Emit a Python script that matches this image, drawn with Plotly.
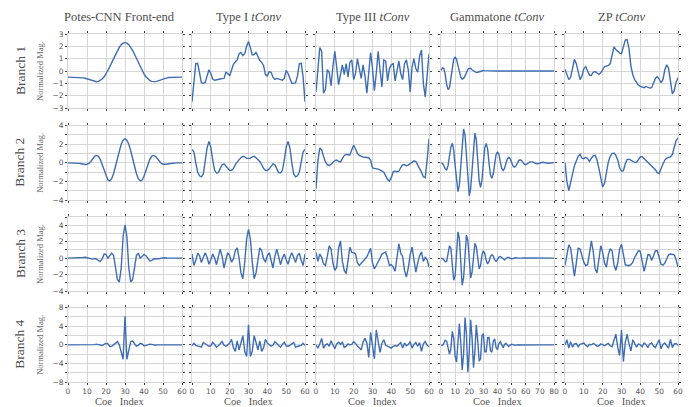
import plotly.graph_objects as go

W, H = 689, 407

col_titles = ["Potes-CNN Front-end", "Type I <i>tConv</i>", "Type III <i>tConv</i>",
              "Gammatone <i>tConv</i>", "ZP <i>tConv</i>"]
branch_labels = ["Branch 1", "Branch 2", "Branch 3", "Branch 4"]
y_title = "Normalized Mag."
x_title = "Coe\u00a0\u00a0\u00a0Index"

x_ticks_60 = [0, 10, 20, 30, 40, 50, 60]
x_ticks_80 = [0, 10, 20, 30, 40, 50, 60, 70, 80]
row_ranges = [[-3, 3], [-4, 4], [-4, 5], [-8, 8]]
row_ticks = [[-3, -2, -1, 0, 1, 2, 3], [-4, -2, 0, 2, 4], [-4, -2, 0, 2, 4], [-8, -4, 0, 4, 8]]
row_minor = [1, 1, 1, 2]

# ---------------- Branch 1 ----------------
potes_b1 = [-0.5, -0.5, -0.5, -0.5, -0.5, -0.51, -0.52, -0.53, -0.56, -0.59,
            -0.64, -0.7, -0.76, -0.82, -0.86, -0.87, -0.84, -0.77, -0.65, -0.47,
            -0.24, 0.04, 0.35, 0.68, 1.02, 1.36, 1.67, 1.93, 2.13, 2.26,
            2.3,
            2.26, 2.13, 1.93, 1.67, 1.36, 1.02, 0.68, 0.35, 0.04, -0.24,
            -0.47, -0.65, -0.77, -0.84, -0.87, -0.86, -0.82, -0.76, -0.7, -0.64,
            -0.59, -0.56, -0.53, -0.52, -0.51, -0.5, -0.5, -0.5, -0.5, -0.5]
type1_b1 = [-2.5, -0.8, 0.6, 0.62, -0.3, -0.95, -1.0, -0.95, -0.4, 0.1,
            -0.2, -0.65, -0.75, -0.7, -0.65, -0.65, -0.62, -0.6, -0.1, -0.2,
            -0.4, 0.1, 0.55, 0.75, 0.9, 1.4, 1.5, 1.25, 1.4, 2.0,
            2.4, 1.9, 1.3, 1.35, 1.5, 1.2, 0.85, 0.7, 0.45, -0.3,
            -0.4, -0.05, -0.1, -0.5, -0.68, -0.6, -0.65, -0.7, -0.75, -0.6,
            0.05, -0.2, -0.7, -1.0, -1.0, -0.95, -0.4, 0.6, 0.62, -0.5, -2.5]
type3_b1 = [-1.7, 0.5, 1.9, 1.6, -1.8, -1.5, 0.1, -0.1, -1.2, 0.4,
            1.6, 0.3, -1.1, -0.3, 0.5, -0.3, 0.6, -0.5, 0.7, 0.9,
            -0.7, -0.2, 1.0, 0.2, -0.6, 0.5, -0.4, -1.8, 0.2, 1.5,
            0.2, -1.6, -0.2, 1.6, 0.1, -1.3, 0.9, 0.8, -0.8, 0.2,
            0.5, 0.6, -0.8, 0.1, 0.8, -0.2, -0.7, 0.6, 0.9, 0.1,
            -1.7, 0.3, 1.0, 0.2, -0.1, 1.2, 1.7, -1.0, -2.1, -0.4, 1.4]
gamma_b1 = [0.05, 0.25, 0.2, -0.3, -1.1, -1.5, -1.35, -0.6, 0.3, 0.95,
            1.15, 0.95, 0.45, -0.1, -0.5, -0.65, -0.6, -0.4, -0.1, 0.12,
            0.22, 0.2, 0.1, 0.0, -0.1, -0.13, -0.1, -0.05, 0.0, 0.03,
            0.04, 0.03, 0.02, 0.01, 0.0, 0.0, 0.0, 0.0, 0.0, 0.0,
            0.0, 0.0, 0.0, 0.0, 0.0, 0.0, 0.0, 0.0, 0.0, 0.0,
            0.0, 0.0, 0.0, 0.0, 0.0, 0.0, 0.0, 0.0, 0.0, 0.0,
            0.0, 0.0, 0.0, 0.0, 0.0, 0.0, 0.0, 0.0, 0.0, 0.0,
            0.0, 0.0, 0.0, 0.0, 0.0, 0.0, 0.0, 0.0, 0.0, 0.0, 0.0]
zp_b1 = [0.15, -0.3, -0.7, -0.5, 0.4, 0.95, 0.6, -0.2, -0.7, -0.4,
         0.2, 0.35, 0.0, -0.35, -0.35, -0.1, -0.05, -0.2, -0.28, -0.15,
         0.15, 0.35, 0.4, 0.45, 0.6, 1.3, 1.95, 1.75, 1.55, 1.45,
         1.4, 1.9, 2.5, 2.55, 1.8, 0.4, -0.3, -0.7, -0.95, -1.15,
         -1.25, -1.32, -1.35, -1.25, -1.3, -1.38, -1.35, -1.0, -0.6, -0.45,
         -0.65, -0.95, -0.7, 0.1, 0.5, 0.2, -0.9, -1.85, -1.6, -0.9, -0.55]

# ---------------- Branch 2 ----------------
potes_b2 = [0.0, 0.0, 0.0, 0.0, -0.01, -0.03, -0.06, -0.1, -0.15, -0.18,
            -0.15, -0.05, 0.15, 0.45, 0.7, 0.8, 0.7, 0.35, -0.2, -0.85,
            -1.45, -1.85, -1.95, -1.7, -1.15, -0.4, 0.45, 1.3, 2.0, 2.45,
            2.6,
            2.45, 2.0, 1.3, 0.45, -0.4, -1.15, -1.7, -1.95, -1.85, -1.45,
            -0.85, -0.2, 0.35, 0.7, 0.8, 0.7, 0.45, 0.15, -0.05, -0.15,
            -0.18, -0.15, -0.1, -0.06, -0.03, -0.01, 0.0, 0.0, 0.0, 0.0]
type1_b2 = [1.45, 1.2, 0.0, -1.0, -1.4, -1.5, -1.2, 0.0, 1.6, 2.3,
            1.7, 0.3, -0.8, -1.1, -1.05, -0.6, -0.2, -0.1, -0.35, -0.65,
            -0.82, -0.8, -0.6, -0.2, 0.15, 0.35, 0.55, 0.7, 0.65, 0.5,
            0.48,
            0.5, 0.65, 0.7, 0.55, 0.35, 0.15, -0.2, -0.6, -0.8, -0.82,
            -0.65, -0.35, -0.1, -0.2, -0.6, -1.05, -1.1, -0.8, 0.3, 1.7,
            2.3, 1.6, 0.0, -1.2, -1.5, -1.4, -1.0, 0.0, 1.2, 1.45]
type3_b2 = [-2.8, 0.2, 1.6, 1.4, 0.7, 0.1, -0.2, -0.3, -0.15, 0.05,
            0.25, 0.3, 0.15, 0.1, 0.4, 0.8, 0.9, 0.85, 0.85, 1.4,
            1.9, 1.5, 1.0, 0.8, 0.7, 0.62, 0.6, 0.58, 0.55, 0.3,
            -0.55, -0.6, -0.62, -0.68, -0.75, -0.85, -1.0, -1.4, -1.8, -1.97,
            -1.6, -0.95, -0.9, -0.95, -0.9, -0.5, -0.2, -0.2, -0.32, -0.25,
            -0.1, 0.05, 0.2, 0.15, -0.2, -0.55, -1.0, -1.5, -1.6, 0.3, 2.6]
gamma_b2 = [0.0, -0.05, -0.3, -0.65, -0.75, -0.3, 0.7, 1.7, 2.1, 1.4,
            -0.3, -2.2, -3.1, -2.4, -0.3, 2.2, 3.65, 3.0, 0.6, -2.2,
            -3.55, -2.8, -0.4, 2.0, 3.2, 2.5, 0.3, -1.9, -2.65, -1.9,
            0.0, 1.6, 2.1, 1.5, 0.0, -1.3, -1.65, -1.2, -0.1, 0.9,
            1.2, 0.9, 0.1, -0.6, -0.82, -0.6, -0.05, 0.45, 0.6, 0.45,
            0.05, -0.35, -0.47, -0.35, -0.05, 0.25, 0.32, 0.25, 0.05, -0.15,
            -0.2, -0.15, -0.02, 0.1, 0.14, 0.1, 0.0, -0.07, -0.1, -0.07,
            0.0, 0.05, 0.06, 0.04, 0.0, -0.03, -0.04, -0.02, 0.0, 0.02, 0.02]
zp_b2 = [0.0, -2.0, -3.0, -2.0, -0.9, -0.3, 0.2, 0.7, 0.93, 0.5,
         0.45, 0.6, 0.45, 0.15, 0.5, 0.75, 0.8, 0.3, -0.6, -1.8,
         -2.6, -2.2, -1.0, 0.1, 0.7, 1.0, 1.05, 0.8, 0.3, -0.5,
         -0.9, -0.85, -0.1, 0.35, 0.4, 0.28, 0.2, 0.05, 0.05, 0.4,
         0.65, 0.65, 0.45, 0.3, 0.15, -0.05, -0.25, -0.45, -0.75, -1.05,
         -1.15, -0.6, -0.05, 0.3, 0.5, 0.6, 0.65, 0.9, 1.6, 2.4, 2.7]

# ---------------- Branch 3 ----------------
potes_b3 = [0.0, 0.0, 0.0, 0.0, 0.0, 0.01, 0.02, 0.05, 0.08, 0.1,
            0.05, -0.05, -0.12, -0.12, -0.05, -0.1, -0.3, -0.4, -0.1, 0.5,
            0.45, 0.0, 0.3, 0.6, 0.3, -1.2, -2.6, -2.9, -1.2, 2.6,
            4.05,
            2.6, -1.2, -2.9, -2.6, -1.2, 0.3, 0.6, 0.0, 0.2, 0.45,
            0.3, -0.1, -0.35, -0.3, -0.1, -0.08, -0.12, -0.08, 0.0, 0.05,
            0.04, 0.02, 0.0, 0.0, 0.0, 0.0, 0.0, 0.0, 0.0, 0.0]
type1_b3 = [0.5, -0.9, -0.3, 0.6, 0.3, -0.55, 0.1, 0.65, 0.1, -0.75,
            -0.2, 0.5, 0.0, -0.8, 0.2, 1.1, 0.2, -1.2, -0.2, 0.65,
            0.3, -0.5, -0.1, 0.9, 1.25, 0.0, -1.8, -2.5, -0.5, 2.3,
            3.5,
            2.3, -0.5, -2.5, -1.8, 0.0, 1.25, 0.9, -0.1, -0.5, 0.3,
            0.65, -0.2, -1.2, 0.2, 1.1, 0.2, -0.8, 0.0, 0.5, -0.2,
            -0.75, 0.1, 0.65, 0.1, -0.55, 0.3, 0.6, -0.3, -0.9, 0.5]
type3_b3 = [0.7, -0.4, 0.5, 0.1, -0.7, -0.9, 0.2, 1.5, 1.1, -0.6,
            -1.5, -1.1, 1.2, 2.1, -0.4, -1.5, -1.9, -0.3, 1.35, 0.7,
            0.65, 0.5, -0.6, -0.9, -0.6, -0.3, -0.1, 0.15, 0.7, 1.2,
            -0.6, -1.3, -0.9, -0.5, 0.0, 0.5, 0.6, 0.75, 0.0, -0.9,
            -0.8, -1.1, -1.6, 0.3, 1.75, 0.6, 0.2, -1.5, -2.3, -1.2,
            0.4, 1.35, -0.5, -1.7, -0.6, 0.3, 0.75, -0.4, 0.1, -0.2, -1.1]
gamma_b3 = [0.0, -0.05, -0.2, -0.45, -0.4, 0.5, 1.5, 1.2, -1.0, -2.7,
            -2.2, 1.0, 3.2, 2.4, -1.3, -3.3, -2.4, 0.8, 2.8, 2.2,
            -0.8, -2.4, -1.7, 0.5, 1.8, 1.4, -0.3, -1.3, -0.9, 0.4,
            0.9, 0.55, -0.3, -0.7, -0.4, 0.2, 0.4, 0.25, -0.2, -0.4,
            -0.2, 0.12, 0.2, 0.05, -0.15, -0.2, -0.05, 0.08, 0.07, -0.02,
            -0.08, -0.05, 0.02, 0.04, 0.01, -0.02, -0.02, 0.0, 0.01, 0.01,
            0.0, 0.0, 0.0, 0.0, 0.0, 0.0, 0.0, 0.0, 0.0, 0.0,
            0.0, 0.0, 0.0, 0.0, 0.0, 0.0, 0.0, 0.0, 0.0, 0.0, 0.0]
zp_b3 = [-0.9, 0.4, 1.6, 1.2, -0.8, -2.2, -0.6, 1.2, 1.1, 0.3,
         -0.5, -0.9, -0.8, 0.6, 2.1, 0.8, -1.3, -1.8, 0.2, 1.5,
         0.7, -0.6, -1.1, 0.4, 1.15, 0.9, -0.8, -1.5, -0.6, 1.1,
         1.7, 0.5, -0.8, -0.9, -0.9, -0.8, -0.5, 0.1, 0.6, 0.9,
         0.8, -0.5, -1.6, -0.7, 0.4, 0.4, -0.3, 0.3, 0.9, 0.9,
         -0.1, -0.75, -0.85, -0.6, -0.1, 0.4, 0.5, 0.45, 0.4, -0.2, -1.1]

# ---------------- Branch 4 ----------------
potes_b4 = [0.0, 0.0, 0.0, 0.0, 0.0, 0.0, 0.0, 0.0, 0.02, 0.03,
            0.02, 0.0, -0.05, -0.05, 0.05, 0.15, 0.1, -0.1, -0.15, 0.1,
            0.35, 0.2, -0.35, -0.3, 0.1, 0.5, 0.7, 0.0, -1.5, -3.1,
            6.2,
            -3.1, -1.2, 0.7, 0.8, 0.1, -0.3, -0.1, 0.35, 0.2, -0.2,
            -0.15, 0.05, 0.15, 0.1, -0.05, -0.08, 0.0, 0.05, 0.04, 0.0,
            0.0, 0.0, 0.0, 0.0, 0.0, 0.0, 0.0, 0.0, 0.0, 0.0]
type1_b4 = [-0.15, 0.35, -0.1, -0.2, -0.3, -0.5, 0.5, 0.2, -0.1, -0.3,
            -0.2, 0.55, 0.1, -0.5, -0.2, 0.3, 0.7, -0.1, -0.3, 0.0,
            0.4, 1.2, -0.6, -1.4, 0.85, -1.1, 0.5, 2.0, -1.4, -2.5,
            4.3,
            -2.5, -1.4, 2.0, 0.5, -1.1, 0.85, -1.4, -0.6, 1.2, 0.4,
            0.0, -0.3, -0.1, 0.7, 0.3, -0.2, -0.5, 0.1, 0.55, -0.2,
            -0.3, -0.1, 0.2, 0.5, -0.5, -0.3, -0.2, -0.1, 0.35, -0.15]
type3_b4 = [0.0, -0.7, 0.2, 1.4, -0.7, 0.0, 0.2, -0.3, 0.9, -0.2,
            -0.85, 0.2, 0.55, 0.1, 0.6, -0.55, -0.3, 0.2, 0.0, 0.1,
            0.7, 0.3, -0.3, -0.6, -1.1, 0.6, 1.4, 0.4, -2.7, 2.7,
            0.0, -3.0, 3.2, 0.2, -1.6, 0.3, 1.1, -0.1, -0.3, -0.4,
            -0.7, -0.3, -0.15, -0.3, 0.2, 0.5, -0.7, 0.4, -0.2, 0.1,
            0.7, -0.7, 0.1, 0.5, -0.3, 0.5, -1.4, 0.2, 0.7, -0.1, -0.4]
gamma_b4 = [0.0, -0.1, 0.3, 1.0, 0.8, -0.5, -2.0, -0.8, 2.9, 1.5,
            -2.5, -3.7, 1.0, 4.6, 0.5, -5.4, -2.0, 5.9, 2.5, -5.9,
            -1.5, 5.4, 1.5, -4.9, -1.5, 4.3, 1.0, -3.5, -3.0, 2.0,
            2.4, -1.5, -1.5, 1.5, 1.6, -1.2, -1.6, 0.8, 1.3, -0.6,
            -1.0, 0.3, 0.7, -0.2, -0.6, 0.1, 0.35, -0.05, -0.35, -0.05,
            0.15, 0.05, -0.1, -0.05, 0.05, 0.03, -0.03, -0.02, 0.02, 0.01,
            0.0, 0.0, 0.0, 0.0, 0.0, 0.0, 0.0, 0.0, 0.0, 0.0,
            0.0, 0.0, 0.0, 0.0, 0.0, 0.0, 0.0, 0.0, 0.0, 0.0, 0.0]
zp_b4 = [0.0, 1.1, -0.7, 0.7, -0.5, 0.2, 0.3, -0.4, 0.1, 0.2,
         0.4, -0.1, -0.4, 0.1, 0.0, 0.3, 0.1, -0.3, -0.2, 0.2,
         0.0, -0.2, 0.1, 0.3, -0.2, -0.4, 1.0, 2.3, -0.5, -2.3,
         3.2, -3.6, 0.5, 2.3, 0.2, -1.3, 1.1, 0.2, -0.5, 0.2,
         0.0, -0.4, 0.4, 0.1, -0.6, 0.2, 0.4, -0.3, -0.6, 0.3,
         1.1, -0.85, 0.1, 0.4, -0.2, -0.7, 1.2, -0.6, 0.2, 0.3, -0.1]

series = [
    [potes_b1, type1_b1, type3_b1, gamma_b1, zp_b1],
    [potes_b2, type1_b2, type3_b2, gamma_b2, zp_b2],
    [potes_b3, type1_b3, type3_b3, gamma_b3, zp_b3],
    [potes_b4, type1_b4, type3_b4, gamma_b4, zp_b4],
]

# ---------------- layout (pixels) ----------------
col_px = [(68, 182), (192, 305), (316, 429), (441, 554), (565, 678)]
row_px = [(34, 108), (125.7, 200), (217, 291), (307.7, 382)]
title_cx = [119, 248.5, 372.5, 497.5, 621.5]

LINE = "#3f6db4"
GRID = "#d6d6d6"
TXT = "#4d4d4d"
TICKFONT = dict(family="DejaVu Sans", size=7.5, color="#555555")
SERIF = "Liberation Serif"

fig = go.Figure()
axes = {}
for r in range(4):
    for c in range(5):
        k = r * 5 + c + 1
        s = "" if k == 1 else str(k)
        yv = series[r][c]
        fig.add_trace(go.Scatter(
            x=list(range(len(yv))), y=yv, mode="lines",
            line=dict(color=LINE, width=1.4),
            xaxis="x" + s, yaxis="y" + s, showlegend=False, hoverinfo="skip"))
        xt = x_ticks_80 if c == 3 else x_ticks_60
        axes["xaxis" + s] = dict(
            domain=[col_px[c][0] / W, col_px[c][1] / W], anchor="y" + s,
            range=[xt[0], xt[-1]], tickvals=xt, showticklabels=(r == 3),
            showgrid=True, gridcolor=GRID, gridwidth=1, zeroline=False,
            showline=True, linecolor=GRID, linewidth=1, mirror="ticks",
            ticks="outside", ticklen=2, tickcolor="#444", tickwidth=1,
            tickfont=TICKFONT, fixedrange=True, automargin=False)
        axes["yaxis" + s] = dict(
            domain=[1 - row_px[r][1] / H, 1 - row_px[r][0] / H], anchor="x" + s,
            range=row_ranges[r], tickvals=row_ticks[r], showticklabels=(c == 0),
            showgrid=True, gridcolor=GRID, gridwidth=1, zeroline=False,
            showline=True, linecolor=GRID, linewidth=1, mirror="ticks",
            ticks="outside", ticklen=2, tickcolor="#444", tickwidth=1,
            minor=dict(dtick=row_minor[r], tick0=0, showgrid=True, gridcolor=GRID,
                       ticks="outside", ticklen=2, tickcolor="#444"),
            tickfont=TICKFONT, fixedrange=True, automargin=False)

annotations = []
for c, t in enumerate(col_titles):
    annotations.append(dict(text=t, x=title_cx[c] / W, y=1 - 17 / H, xref="paper", yref="paper",
                            xanchor="center", yanchor="middle", showarrow=False,
                            font=dict(family=SERIF, size=12.5, color=TXT)))
for r, t in enumerate(branch_labels):
    cy = (row_px[r][0] + row_px[r][1]) / 2
    annotations.append(dict(text=t, x=20 / W, y=1 - cy / H, xref="paper", yref="paper",
                            xanchor="center", yanchor="middle", showarrow=False, textangle=-90,
                            font=dict(family=SERIF, size=13.5, color=TXT)))
    annotations.append(dict(text=y_title, x=40 / W, y=1 - cy / H, xref="paper", yref="paper",
                            xanchor="center", yanchor="middle", showarrow=False, textangle=-90,
                            font=dict(family=SERIF, size=8.5, color="#666666")))
for c in range(5):
    annotations.append(dict(text=x_title, x=title_cx[c] / W, y=1 - 401 / H, xref="paper", yref="paper",
                            xanchor="center", yanchor="middle", showarrow=False,
                            font=dict(family=SERIF, size=10.5, color="#555555")))

fig.update_layout(
    width=W, height=H, margin=dict(l=0, r=0, t=0, b=0, autoexpand=False),
    paper_bgcolor="white", plot_bgcolor="white",
    annotations=annotations, showlegend=False, **axes)

fig.write_html("out.html", config={"displayModeBar": False},
               post_script="document.body.style.margin='0';document.body.style.overflow='hidden';")
